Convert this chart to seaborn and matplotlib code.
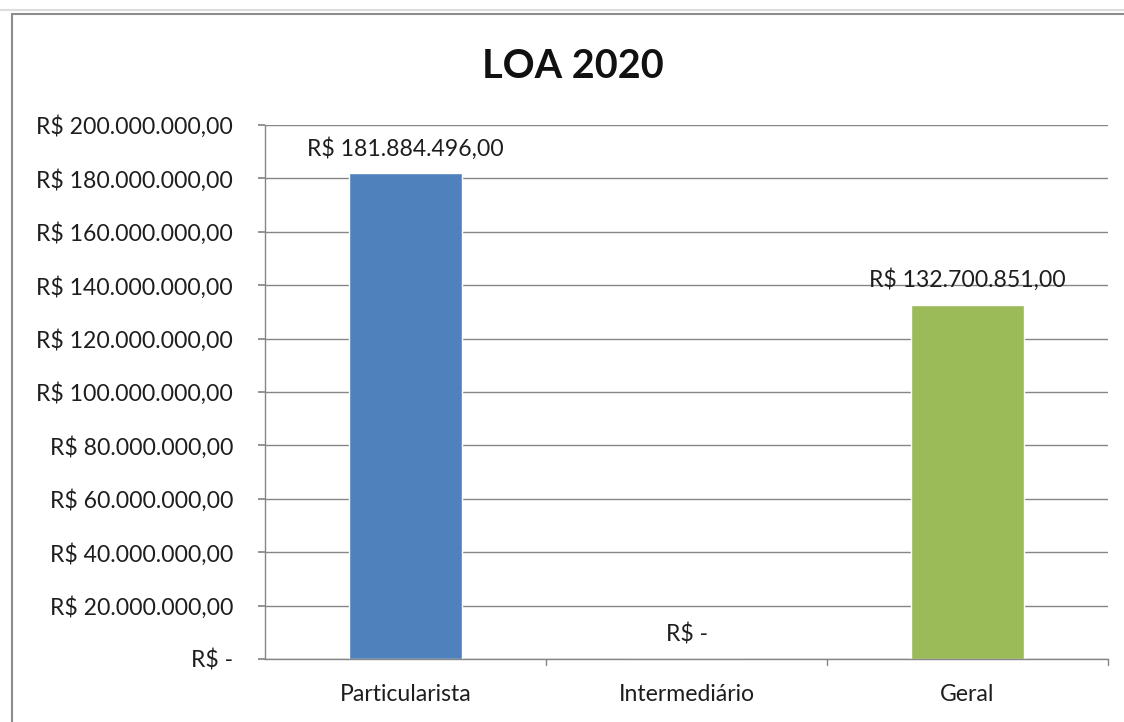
import matplotlib
matplotlib.use("Agg")
import matplotlib.pyplot as plt
import seaborn as sns
import pandas as pd
from matplotlib.lines import Line2D

categories = ["Particularista", "Intermediário", "Geral"]
values = [181884496.00, 0.0, 132700851.00]
colors = ["#4F81BD", "#C0504D", "#9BBB59"]
title = "LOA 2020"
yticks = [0, 20e6, 40e6, 60e6, 80e6, 100e6, 120e6, 140e6, 160e6, 180e6, 200e6]


def brl(v):
    if v == 0:
        return "R$ -"
    s = f"{v:,.2f}"
    s = s.replace(",", "X").replace(".", ",").replace("X", ".")
    return "R$ " + s


sns.set_theme(style="white")
plt.rcParams["font.family"] = ["Lato", "DejaVu Sans"]

FS = 16.6
TXT = "#1e1e1e"

df = pd.DataFrame({"cat": categories, "val": values})

fig = plt.figure(figsize=(11.24, 7.22), dpi=100)
ax = fig.add_axes([265 / 1124, 63 / 722, 843 / 1124, 534 / 722])

sns.barplot(data=df, x="cat", y="val", hue="cat", palette=colors, width=0.4,
            ax=ax, legend=False, saturation=1)

ax.set_ylim(0, 200e6)
ax.set_xlim(-0.5, 2.5)
ax.set_yticks(yticks)
ax.set_yticklabels([brl(v) for v in yticks], fontsize=FS, color=TXT)
ax.set_xticks(range(len(categories)))
ax.set_xticklabels(categories, fontsize=FS, color=TXT)
ax.set_xlabel("")
ax.set_ylabel("")
ax.grid(axis="y", color="#868686", linewidth=1.0)
ax.set_axisbelow(True)
for side in ["top", "right"]:
    ax.spines[side].set_visible(False)
for side in ["left", "bottom"]:
    ax.spines[side].set_color("#868686")
    ax.spines[side].set_linewidth(1.0)
ax.tick_params(axis="y", length=5, color="#868686", direction="out", pad=18, left=True)
ax.tick_params(axis="x", length=0, pad=18, bottom=False)
# category boundary ticks on x axis
for b in [0.5, 1.5, 2.5]:
    ax.plot([b, b], [0, -0.012], transform=ax.get_xaxis_transform(), color="#868686",
            lw=1.0, clip_on=False)

for i, cont in enumerate(ax.containers):
    labs = [brl(b.get_height()) for b in cont]
    ax.bar_label(cont, labels=labs, padding=10, fontsize=FS, color=TXT)

fig.suptitle(title, fontsize=28.5, fontweight="bold", y=1 - 66 / 722, va="center", x=573 / 1124,
             color="#111111")

# chart frame (Excel style)
fig.add_artist(Line2D([12 / 1124, 12 / 1124], [0, 1 - 14 / 722], transform=fig.transFigure,
                      color="#8c8c8c", lw=1.5))
fig.add_artist(Line2D([12 / 1124, 1], [1 - 14 / 722, 1 - 14 / 722], transform=fig.transFigure,
                      color="#8c8c8c", lw=1.5))
fig.add_artist(Line2D([0, 1], [1 - 10 / 722, 1 - 10 / 722], transform=fig.transFigure,
                      color="#dddddd", lw=1.5))

fig.savefig("out.png", dpi=100)
